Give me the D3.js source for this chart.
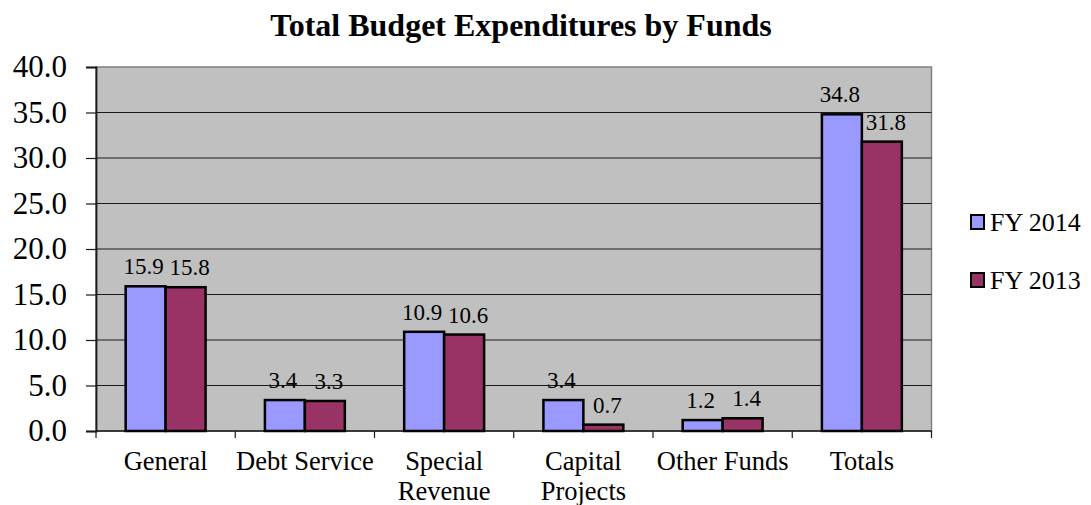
<!DOCTYPE html>
<html><head><meta charset="utf-8">
<script src="https://cdn.jsdelivr.net/npm/d3@7"></script>
<style>body{margin:0;background:#fff;}</style>
</head><body><svg id="c" width="1091" height="505" font-family="Liberation Serif"></svg>
<script>
const categories = [["General"],["Debt Service"],["Special","Revenue"],["Capital","Projects"],["Other Funds"],["Totals"]];
const seriesNames = ["FY 2014","FY 2013"];
const fy2014 = [15.9, 3.4, 10.9, 3.4, 1.2, 34.8];
const fy2013 = [15.8, 3.3, 10.6, 0.7, 1.4, 31.8];
const yTicks = [0,5,10,15,20,25,30,35,40];
const colors = ["#9999ff","#993366"];
const FF = "Liberation Serif";

const svg = d3.select("#c");
const L=96, R=931.5, T=67, B=431;
const x = d3.scaleBand().domain(d3.range(categories.length)).range([L,R]).paddingInner(0).paddingOuter(0);
const y = d3.scaleLinear().domain([0,40]).range([B,T]);
const bw = x.bandwidth()*0.287;

svg.append("text").attr("x",521).attr("y",36).attr("text-anchor","middle").attr("font-family",FF)
  .attr("font-size",32).attr("font-weight","bold").text("Total Budget Expenditures by Funds");

svg.append("rect").attr("x",L).attr("y",T).attr("width",R-L).attr("height",B-T)
  .attr("fill","#c0c0c0").attr("stroke","#808080").attr("stroke-width",1.5);

// gridlines
svg.append("g").selectAll("line").data(yTicks.slice(1,-1)).join("line")
  .attr("x1",L).attr("x2",R).attr("y1",d=>y(d)).attr("y2",d=>y(d))
  .attr("stroke","#1a1a1a").attr("stroke-width",1.2);

// y axis
const ya = svg.append("g").attr("transform",`translate(${L},0)`)
  .call(d3.axisLeft(y).tickValues(yTicks).tickFormat(d3.format(".1f")).tickSize(10).tickPadding(19));
ya.attr("font-family",FF).attr("font-size",31);
ya.select(".domain").attr("stroke","#1a1a1a").attr("stroke-width",1.8);
ya.selectAll(".tick line").attr("stroke","#1a1a1a").attr("stroke-width",1.2);
ya.selectAll("text").attr("fill","#000");

// x axis
const xa = svg.append("g").attr("transform",`translate(0,${B})`);
xa.append("line").attr("x1",L).attr("x2",R).attr("stroke","#1a1a1a").attr("stroke-width",1.5);
xa.selectAll("line.t").data(d3.range(categories.length+1)).join("line").attr("class","t")
  .attr("x1",i=>L+i*x.bandwidth()).attr("x2",i=>L+i*x.bandwidth()).attr("y1",0).attr("y2",7)
  .attr("stroke","#1a1a1a").attr("stroke-width",1.2);
const cl = svg.append("g").selectAll("text").data(categories).join("text")
  .attr("text-anchor","middle").attr("font-size",26.5).attr("font-family",FF)
  .attr("transform",(d,i)=>`translate(${x(i)+x.bandwidth()/2},470)`);
cl.selectAll("tspan").data(d=>d).join("tspan").attr("x",0).attr("y",(d,j)=>j*30).text(d=>d);

// bars
const series=[fy2014,fy2013];
series.forEach((vals,s)=>{
  const g=svg.append("g");
  g.selectAll("rect").data(vals).join("rect")
    .attr("x",(d,i)=>x(i)+x.bandwidth()/2 - bw + s*bw).attr("width",bw)
    .attr("y",d=>y(d)).attr("height",d=>B-y(d))
    .attr("fill",colors[s]).attr("stroke","#000").attr("stroke-width",2.5);
  g.selectAll("text").data(vals).join("text")
    .attr("x",(d,i)=>x(i)+x.bandwidth()/2 - bw/2 + s*bw + (s?4:-2)).attr("y",d=>y(d)-12)
    .attr("text-anchor","middle").attr("font-size",23).attr("font-family",FF).text(d=>d3.format(".1f")(d));
});

// legend
const lg = svg.append("g").selectAll("g").data(seriesNames).join("g")
  .attr("transform",(d,i)=>`translate(971,${222+i*58})`);
lg.append("rect").attr("x",0).attr("y",-7).attr("width",13).attr("height",14)
  .attr("fill",(d,i)=>colors[i]).attr("stroke","#000").attr("stroke-width",2);
lg.append("text").attr("x",19).attr("y",9).attr("font-size",26).attr("font-family",FF).text(d=>d);
</script></body></html>
